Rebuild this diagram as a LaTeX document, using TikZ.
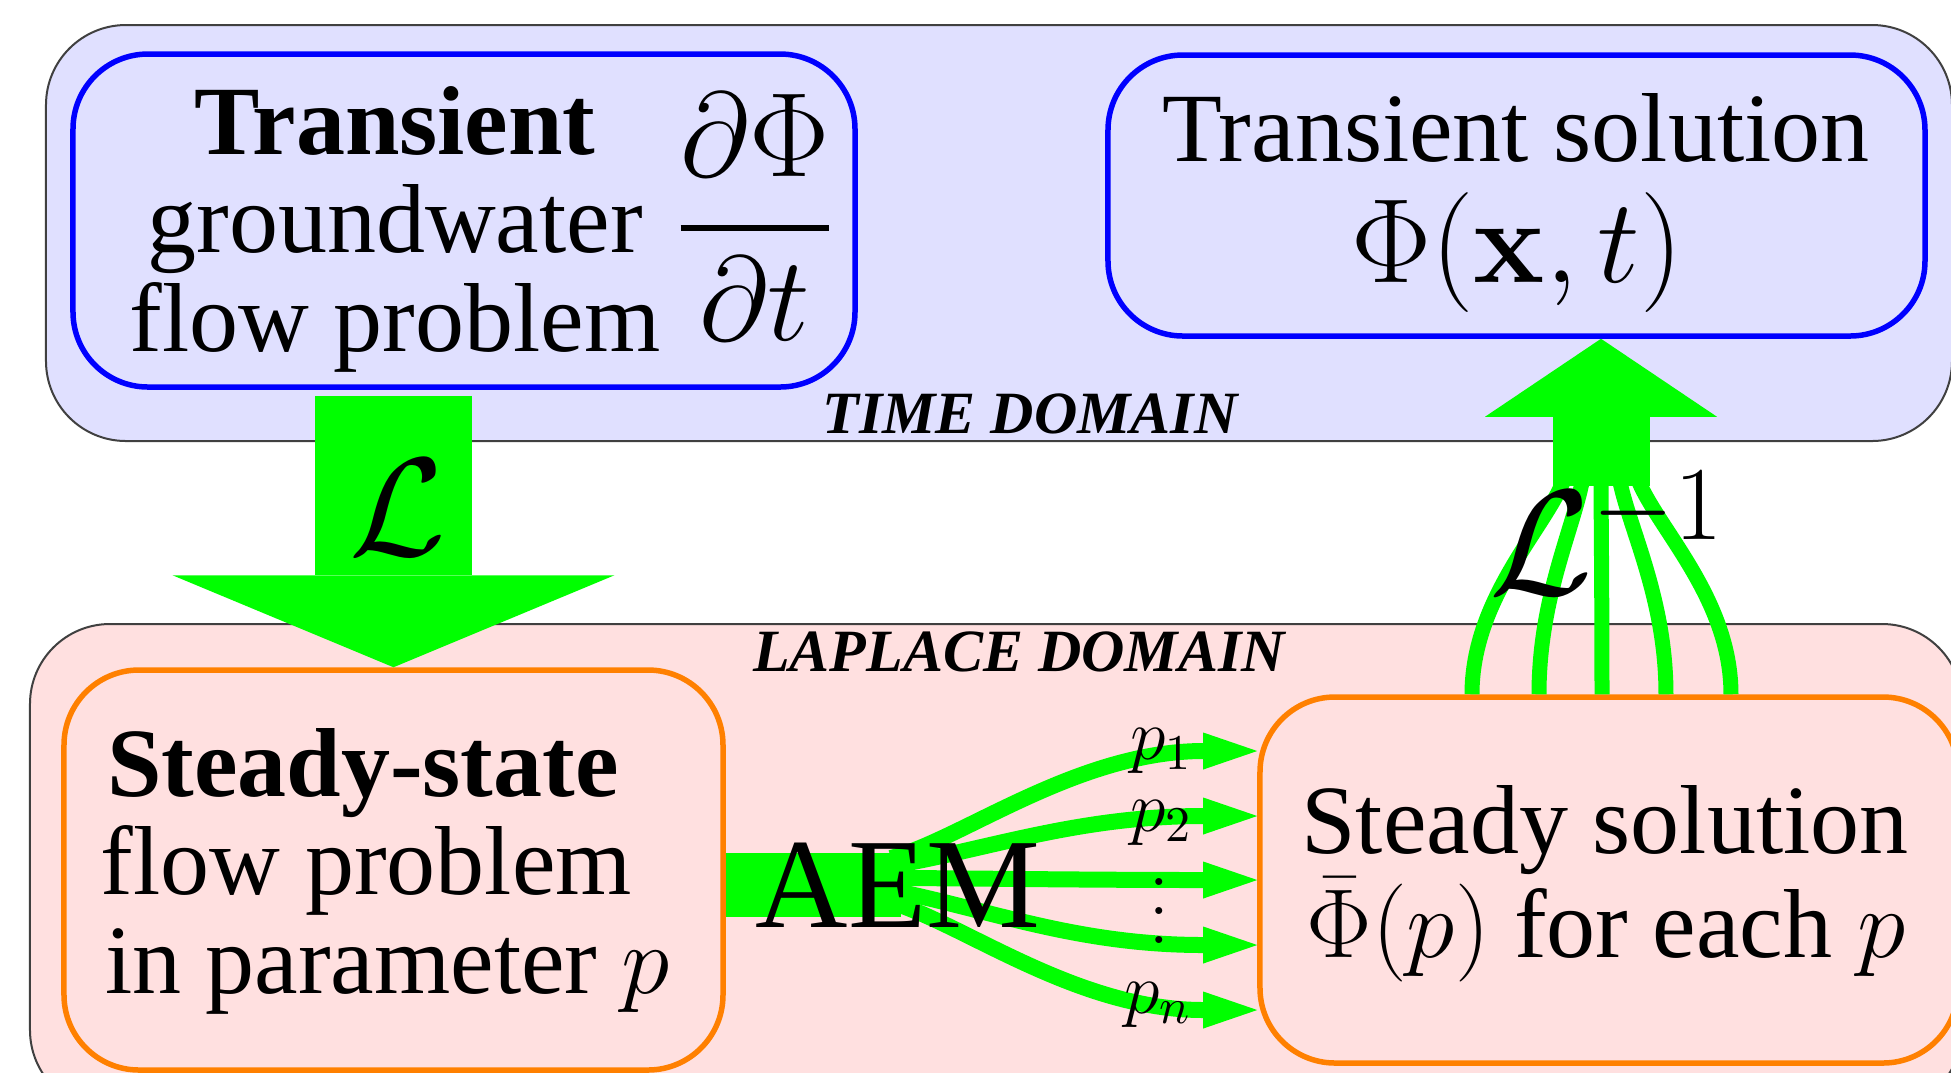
\RequirePackage{fix-cm}
\documentclass[tikz,border=0pt]{standalone}
\usepackage[no-math]{fontspec}
\setmainfont{Liberation Serif}
\usetikzlibrary{arrows.meta,calc}
\definecolor{timebg}{RGB}{224,224,255}
\definecolor{lapbg}{RGB}{255,224,224}
\definecolor{boxorange}{RGB}{255,128,0}
\definecolor{flowgreen}{RGB}{0,255,0}
\newcommand\txtsize{\fontsize{19.6}{19.6}\selectfont}
\newcommand\bigmath{\fontsize{24}{24}\selectfont}
\newcommand\psize{\fontsize{14.4}{14.4}\selectfont}
\begin{document}
\begin{tikzpicture}[x=0.2pt,y=-0.2pt,
  domainbox/.style={draw=black!75, line width=0.4pt, rounded corners=16pt, inner sep=0pt},
  probbox/.style={line width=1.1pt, rounded corners=15pt, inner sep=0pt},
  txt/.style={inner sep=0pt, anchor=base, font=\txtsize},
  dlabel/.style={inner sep=0pt, anchor=base, font=\fontsize{12}{12}\selectfont\bfseries\itshape},
  fancurve/.style={draw=flowgreen, line width=3pt},
  fanarrow/.style={draw=flowgreen, line width=3.2pt, -{Triangle[length=10.8pt,width=7.4pt,line width=0pt]}},
]
\useasboundingbox (0,0) rectangle (1951,1072);
\clip (0,0) rectangle (1951,1072);

% domain boxes
\node[domainbox, fill=timebg, minimum width=381.2pt, minimum height=83.2pt] (time) at (999,233) {};
\node[domainbox, fill=lapbg, minimum width=386.4pt, minimum height=97.2pt] (laplace) at (996,867) {};

% problem boxes
\node[probbox, draw=blue, fill=timebg, minimum width=156.4pt, minimum height=66.6pt] (A) at (464,220.5) {};
\node[probbox, draw=blue, fill=timebg, minimum width=163.4pt, minimum height=56.2pt] (B) at (1516.5,195.5) {};
\node[probbox, draw=boxorange, fill=lapbg, minimum width=131.8pt, minimum height=80pt] (C) at (393.5,870) {};
\node[probbox, draw=boxorange, fill=lapbg, minimum width=139.6pt, minimum height=73.2pt] (D) at (1609,880) {};

% Laplace transform arrow
\coordinate (Afoot) at ($(A.south -| C.north)+(0,6)$);
\draw[flowgreen, line width=31.2pt, -{Triangle[length=18.4pt,width=88.4pt,line width=0pt]}] (Afoot) -- (C.north);

% inverse transform: converging curves and arrow
\coordinate (dtop) at ($(D.north)+(-7,0)$);
\coordinate (upfoot) at ($(D.north)+(-8,-208)$);
\foreach \xb/\xt in {-130/-37, -63/-19, 0/-1, 64/17, 129/35}{
  \draw[fancurve] ($(dtop)+(\xb,0)$) .. controls ($(dtop)+(\xb,-97)$) and ($(dtop)+({\xb+0.8*(\xt-\xb)},-167)$) .. ($(dtop)+(\xt,-217)$);
}
\draw[flowgreen, line width=19.4pt, -{Triangle[length=15.6pt,width=46.4pt,line width=0pt]}] (upfoot) -- (upfoot |- B.south);

% AEM bar and fan of arrows
\coordinate (aemL) at ($(C.east)+(0,15)$);
\coordinate (fan) at ($(aemL)+(160,-5)$);
\draw[flowgreen, line width=12.8pt] (aemL) -- ($(fan)+(15,5)$);
\foreach \sy/\cx/\cy/\ey in {-22/70/-18/-129, -14/95/-16/-64, -2/60/0/0, 10/100/20/65, 22/75/23/130}{
  \draw[fanarrow] ($(fan)+(5,\sy)$) .. controls ($(fan)+({5+\cx},{\sy+\cy})$) and ($(D.west)+(-180,\ey)$) .. ($(D.west)+(0,\ey)$);
}

% texts
\node[txt, font=\txtsize\bfseries] (A1) at (395,154) {Transient};
\node[txt] (A2) at (395,252) {groundwater};
\node[txt] (A3) at (395,351) {flow problem};
\node[inner sep=0pt, anchor=base, font=\bigmath] (Afrac) at (755,258) {$\displaystyle{\partial\Phi\above1.2pt\partial t}$};

\node[txt] (B1) at (1516,161) {Transient solution};
\node[txt, font=\bigmath] (B2) at (1517,282) {$\Phi(\mathbf{x},t)$};

\node[txt, anchor=base west, font=\txtsize\bfseries] (C1) at (106,796) {Steady-state};
\node[txt, anchor=base west] (C2) at (100,894) {flow problem};
\node[txt, anchor=base west] (C3) at (104,993) {in parameter $p$};

\node[txt] (D1) at (1605,853) {Steady solution};
\node[txt] (D2) at (1606,957) {$\bar{\Phi}(p)$ for each $p$};

\node[dlabel] (tl) at (1030,433) {TIME DOMAIN};
\node[dlabel] (ll) at (1019,671) {LAPLACE DOMAIN};

\node[txt, font=\fontsize{25.6}{25.6}\selectfont] (aem) at (898,927) {AEM};
\node[txt, font=\fontsize{28}{28}\selectfont] (L) at (398,555) {$\mathcal{L}$};
\node[txt, anchor=base west, font=\fontsize{30}{30}\selectfont] (Linv) at (1488,594) {$\mathcal{L}^{-1}$};

\node[txt, font=\psize] (p1) at (1162,759) {$p_1$};
\node[txt, font=\psize] (p2) at (1162,831) {$p_2$};
\node[txt, font=\psize] (pn) at (1158,1013) {$p_n$};
\node[inner sep=0pt] (pdots) at (1159,911) {\psize\vbox{\baselineskip=5.8pt\lineskiplimit=-20pt\hbox{$.$}\hbox{$.$}\hbox{$.$}}};
\end{tikzpicture}
\end{document}
